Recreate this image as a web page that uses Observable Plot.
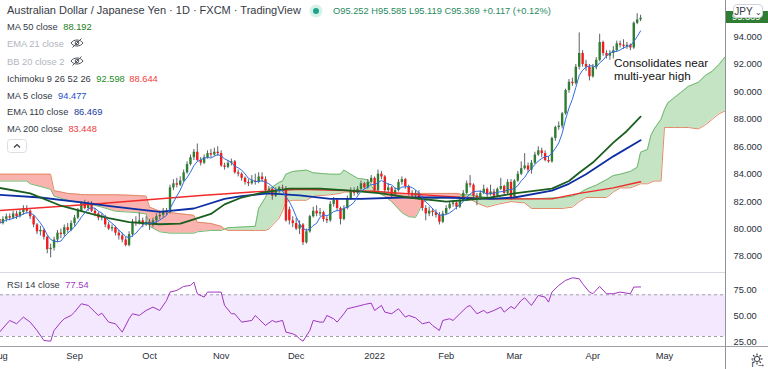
<!DOCTYPE html>
<html><head><meta charset="utf-8">
<script src="https://cdn.jsdelivr.net/npm/d3@7"></script>
<script src="https://cdn.jsdelivr.net/npm/@observablehq/plot@0.6"></script>
<style>
html,body{margin:0;padding:0;background:#fff;}
#wrap{position:relative;width:768px;height:369px;overflow:hidden;font-family:"Liberation Sans",Arial,sans-serif;color:#363a45;background:#fff;}
.abs{position:absolute;white-space:nowrap;}
.lg{font-size:9.3px;line-height:12px;color:#363a45;}
.off{color:#b2b5be;}
svg{overflow:visible;}
</style></head>
<body><div id="wrap"></div>
<script>
// ---------- DATA (bar index 0 = 2 Aug 2021, daily bars) ----------
const opens = [80.7,80.4,80.7,80.9,80.8,81.1,80.9,81.2,81.5,81.3,
80.9,80.3,79.8,79.9,79.4,78.5,78.6,79.2,79.7,79.6,
80.1,79.9,80.4,80.8,81.3,81.9,81.5,81.8,81.3,81.1,
80.8,80.9,80.3,80.0,80.1,79.7,79.5,79.2,78.8,79.6,
80.5,80.4,80.6,80.3,80.5,80.3,80.6,80.9,81.0,81.3,
81.2,83.0,83.3,83.2,83.5,84.1,84.7,85.2,85.6,85.0,
84.8,85.2,85.5,85.4,85.6,85.5,84.6,84.5,84.8,84.9,
84.1,84.0,83.7,83.4,83.3,83.5,83.4,83.8,83.6,82.8,
82.9,82.4,82.8,83.0,82.95,81.4,80.6,80.4,80.0,80.3,
79.0,79.8,80.9,81.3,81.1,81.2,80.7,80.6,81.8,82.1,
81.5,80.7,81.5,82.2,82.8,82.6,82.9,83.3,83.0,83.4,
83.7,82.8,84.0,83.8,82.8,83.0,82.5,82.8,83.4,83.6,
83.1,82.6,82.4,82.6,82.3,81.5,81.1,81.3,81.2,81.0,
80.5,81.1,81.5,81.8,81.9,81.6,82.1,82.6,83.3,83.2,
82.4,82.3,82.6,82.9,82.5,82.7,82.4,82.9,83.1,82.6,
83.4,82.3,83.5,84.0,84.4,84.6,84.3,84.8,85.4,85.7,
85.5,85.0,84.9,86.6,87.4,87.5,88.4,90.1,90.7,90.6,
91.8,92.8,92.0,91.8,91.1,91.8,92.3,93.6,92.8,92.6,
92.8,93.0,93.5,93.4,93.3,93.4,93.2,95.0,95.252];
const highs = [80.9,80.9,81.1,81.1,81.3,81.3,81.4,81.7,81.7,81.4,
81.0,80.4,80.2,80.0,79.5,78.9,79.4,79.9,80.0,80.3,
80.4,80.6,81.0,81.5,82.0,82.1,82.0,82.0,81.5,81.2,
81.1,81.0,80.5,80.3,80.2,79.9,79.7,79.4,79.8,80.7,
80.9,81.2,80.8,80.9,80.7,80.8,81.1,81.3,81.5,81.5,
83.2,83.6,83.7,83.8,84.3,84.9,85.4,85.8,86.2,85.2,
85.4,85.7,85.8,85.9,86.0,85.7,84.8,85.0,85.1,85.0,
84.3,84.1,83.8,83.6,83.9,84.0,84.1,84.1,83.8,83.1,
83.0,83.0,83.1,83.2,83.1,81.6,80.9,80.8,80.6,80.4,
80.0,81.0,81.6,81.7,81.5,81.3,80.9,82.0,82.3,82.2,
81.6,81.7,82.4,83.0,83.0,83.1,83.5,83.4,83.6,83.9,
83.8,84.3,84.2,83.9,83.3,83.1,83.0,83.6,83.8,83.7,
83.2,82.8,82.8,82.8,82.4,81.7,81.6,81.5,81.4,81.2,
81.3,81.7,82.0,82.1,82.0,82.3,82.8,83.5,83.9,83.3,
82.6,82.8,83.2,83.0,83.2,82.9,83.0,83.7,83.2,83.6,
83.6,83.6,84.2,84.9,85.5,84.8,85.0,85.6,86.0,85.9,
85.7,85.3,86.7,87.5,87.8,88.5,90.2,90.9,91.0,92.0,
94.3,93.0,92.3,92.0,92.0,92.5,94.2,93.7,93.0,93.0,
93.3,93.7,93.7,93.8,93.6,93.5,95.1,95.7,95.585];
const lows = [80.2,80.3,80.5,80.6,80.7,80.7,80.8,81.0,81.1,80.7,
80.1,79.6,79.5,79.2,78.2,77.9,78.4,79.0,79.3,79.4,
79.7,79.8,80.2,80.7,81.2,81.4,81.3,81.2,80.9,80.6,
80.6,80.1,79.9,79.8,79.5,79.2,79.0,78.7,78.7,79.4,
80.2,80.3,80.1,80.2,79.9,80.1,80.4,80.7,80.8,81.0,
81.1,82.8,83.0,83.1,83.4,84.0,84.6,85.0,84.9,84.6,
84.7,85.1,85.2,85.3,85.3,84.5,84.3,84.4,84.6,84.0,
83.8,83.5,83.2,83.1,83.2,83.2,83.3,83.4,82.7,82.6,
82.1,82.3,82.6,82.7,80.5,80.3,80.1,79.9,79.6,78.8,
78.9,79.7,80.8,80.9,80.9,80.5,80.4,80.5,81.6,81.3,
80.3,80.6,81.4,82.1,82.4,82.5,82.8,82.9,82.9,83.3,
82.7,82.7,83.6,82.6,82.6,82.3,82.4,82.7,83.2,82.9,
82.4,82.2,82.2,82.1,81.3,80.6,80.9,80.9,80.8,80.3,
80.4,81.0,81.4,81.6,81.4,81.5,82.0,82.5,83.0,82.2,
81.7,82.1,82.5,82.3,82.4,82.2,82.3,82.8,82.4,82.5,
82.1,82.2,83.4,83.9,84.3,84.1,84.0,84.7,85.3,85.2,
84.9,84.8,84.8,86.4,87.2,87.3,88.3,89.9,90.4,90.5,
91.6,91.8,91.5,90.8,91.0,91.6,92.2,92.6,92.4,92.3,
92.4,92.9,93.2,93.1,93.1,93.0,93.1,94.9,95.119];
const closes = [80.4,80.7,80.9,80.8,81.1,80.9,81.2,81.5,81.3,80.9,
80.3,79.8,79.9,79.4,78.5,78.6,79.2,79.7,79.6,80.1,
79.9,80.4,80.8,81.3,81.9,81.5,81.8,81.3,81.1,80.8,
80.9,80.3,80.0,80.1,79.7,79.5,79.2,78.8,79.6,80.5,
80.4,80.6,80.3,80.5,80.3,80.6,80.9,81.0,81.3,81.2,
83.0,83.3,83.2,83.5,84.1,84.7,85.2,85.6,85.0,84.8,
85.2,85.5,85.4,85.6,85.5,84.6,84.5,84.8,84.9,84.1,
84.0,83.7,83.4,83.3,83.5,83.4,83.8,83.6,82.8,82.9,
82.4,82.8,83.0,82.95,80.6,80.6,80.4,80.0,80.3,79.0,
79.8,80.9,81.3,81.1,81.2,80.7,80.6,81.8,82.1,81.5,
80.7,81.5,82.2,82.8,82.6,82.9,83.3,83.0,83.4,83.7,
82.8,84.0,83.8,82.8,83.0,82.5,82.8,83.4,83.6,83.1,
82.6,82.4,82.6,82.3,81.5,81.1,81.3,81.2,81.0,80.5,
81.1,81.5,81.8,81.9,81.6,82.1,82.6,83.3,83.2,82.4,
82.3,82.6,82.9,82.5,82.7,82.4,82.9,83.1,82.6,83.4,
82.3,83.5,84.0,84.4,84.6,84.3,84.8,85.4,85.7,85.5,
85.0,84.9,86.6,87.4,87.5,88.4,90.1,90.7,90.6,91.8,
92.8,92.0,91.8,91.1,91.8,92.3,93.6,92.8,92.6,92.8,
93.0,93.5,93.4,93.3,93.4,93.2,95.0,95.25,95.369];

// Ichimoku leading spans (displayed position, shifted 26 bars ahead)
const cloudIdx = [0,8,9,15,16,20,25,30,34,40,43,44,47,50,57,58,62,65,66,67,75,76,78,79,82,83,84,86,90,92,97,100,101,103,105,108,109,110,113,115,118,120,122,123,124,126,134,136,138,140,143,146,150,154,156,165,168,170,172,175,178,180,182,185,187,188,190,191,192,194,195,196,198,200,202,205,207,209,211,213];
const spanA = [83.5,83.5,83.3,82.9,82.4,82.1,81.9,81.6,81.3,81.2,81.1,80.2,79.8,79.7,79.7,79.8,79.9,79.9,80.0,80.1,80.2,81.5,82.3,82.9,83.4,83.5,84.0,84.2,84.3,84.1,84.0,84.0,84.3,84.0,83.7,83.6,83.2,82.75,82.4,82.0,81.2,80.9,80.85,81.3,81.9,82.2,82.3,82.5,82.5,82.4,82.3,82.2,82.2,82.2,82.2,82.3,82.4,82.6,82.9,83.2,83.6,83.9,84.0,84.2,84.5,85.6,85.8,86.8,87.3,88.0,88.7,89.2,89.6,90.0,90.4,90.7,91.2,91.5,92.0,92.6];
const spanB = [84.0,84.0,84.0,84.0,82.8,82.6,82.5,82.5,82.5,82.45,82.4,81.6,81.3,81.2,81.0,80.5,80.4,80.2,80.0,79.9,79.9,79.9,79.9,80.0,80.8,81.3,82.0,82.1,82.1,82.4,82.5,82.6,82.7,82.7,82.8,82.8,82.8,82.8,82.7,82.6,82.6,82.6,82.6,82.6,82.6,82.6,82.6,82.5,82.2,81.9,81.6,81.8,82.0,81.9,81.5,81.5,81.6,82.0,82.3,82.3,82.3,82.7,83.0,83.0,83.2,83.3,83.3,83.4,83.5,83.5,87.4,87.4,87.4,87.4,87.4,87.3,87.6,88.0,88.4,88.64];

// Moving averages
const ma50Idx = [0,9,18,27,32,38,47,53,57,62,66,71,77,85,94,103,112,120,131,136,144,151,162,167,170,174,180,184,188];
const ma50Val = [83.0,82.6,81.7,81.1,80.8,80.5,80.35,80.4,80.7,81.1,81.8,82.3,82.65,82.95,82.95,82.8,82.6,82.3,82.0,82.1,82.3,82.6,82.95,83.5,84.1,84.85,86.3,87.15,88.19];
const ema110Idx = [0,12,24,33,47,57,66,71,79,88,97,106,118,130,144,151,162,167,172,180,188];
const ema110Val = [82.5,82.3,81.95,81.65,81.25,81.5,82.2,82.4,82.6,82.45,82.2,82.2,82.3,82.3,82.2,82.3,82.8,83.3,84.0,85.3,86.47];
const ma200Idx = [0,29,59,77,88,110,130,144,162,170,180,188];
const ma200Val = [81.35,81.85,82.45,82.75,82.9,82.75,82.4,82.2,82.2,82.6,83.0,83.45];

// RSI 14
const rsiIdx = [0,3,5,7,9,11,13,15,16,18,19,21,22,24,26,28,29,30,32,34,36,38,39,41,43,45,47,49,50,52,54,56,57,58,60,61,65,66,68,69,71,74,75,76,78,80,81,83,84,86,87,88,89,91,92,94,95,96,98,99,101,102,104,106,107,109,110,112,113,115,117,119,120,122,124,126,127,129,130,132,133,135,137,138,140,142,143,145,147,148,150,151,153,154,156,158,160,161,162,164,166,168,170,171,173,174,176,178,180,182,185,186,188];
const rsiVal = [34.2,45.4,42.2,48.6,43.8,35.8,26.2,25.5,35.8,43.8,47.0,50.2,53.4,61.4,59.8,53.4,50.2,52.4,43.8,42.2,34.2,47.0,51.8,50.2,55.0,58.2,55.0,64.6,72.6,74.2,78.0,79.0,82.2,71.0,67.8,72.6,72.6,59.8,51.8,51.8,43.8,45.4,50.2,47.0,40.6,45.4,43.8,45.4,34.2,32.6,31.0,27.8,25.5,35.8,45.4,43.8,43.8,50.2,47.0,43.8,51.8,56.6,58.2,59.8,60.7,62.0,55.0,59.8,53.4,51.8,56.6,48.6,50.2,47.9,42.2,43.8,40.6,35.8,45.4,47.0,45.4,51.8,58.2,59.8,51.8,55.0,52.4,55.0,58.2,53.4,58.8,56.6,64.6,67.1,59.8,69.4,67.8,63.0,72.6,79.0,83.8,86.3,85.4,80.6,72.6,71.0,78.0,71.0,71.0,72.6,71.0,77.4,77.54];

// axis ticks
const priceTicks = [78,80,82,84,86,88,90,92,94];
const rsiTicks = [25,50,75];
const monthIdx = [0,22,44,65,87,110,131,151,174,195];
const monthLabels = ["Aug","Sep","Oct","Nov","Dec","2022","Feb","Mar","Apr","May"];

// ---------- BUILD ----------
const candles = closes.map((c,i)=>({i, o:opens[i], h:highs[i], l:lows[i], c}));
const cloud = cloudIdx.map((i,k)=>({i, a:spanA[k], b:spanB[k]}));
const pts = (idx,val)=>idx.map((i,k)=>({i, v:val[k]}));
const ma50 = pts(ma50Idx, ma50Val), ema110 = pts(ema110Idx, ema110Val), ma200 = pts(ma200Idx, ma200Val);
const rsi = pts(rsiIdx, rsiVal);

const FONT = "'Liberation Sans', Arial, sans-serif";
const xs = {domain:[0,212.9], range:[-1,725], axis:null};
const GREEN = "#2e7d32", RED = "#ef1d1d";

const pricePlot = Plot.plot({
  width:768, height:273, marginLeft:0, marginRight:43, marginTop:0, marginBottom:0,
  style:{fontFamily:FONT, fontSize:"9.3px", color:"#2a2e39", background:"transparent"},
  x: xs,
  y: {domain:[78,94], range:[256,36.5], axis:null},
  marks:[
    Plot.areaY(cloud,{x:"i", y1:"b", y2:d=>Math.max(d.a,d.b), fill:"#c4e4c3", clip:true}),
    Plot.areaY(cloud,{x:"i", y1:"a", y2:d=>Math.max(d.a,d.b), fill:"#fbb3b0", clip:true}),
    Plot.lineY(cloud,{x:"i", y:"a", stroke:"#72b872", strokeWidth:1, clip:true}),
    Plot.lineY(cloud,{x:"i", y:"b", stroke:"#e08a66", strokeWidth:1, clip:true}),
    Plot.ruleX(candles,{x:"i", y1:"l", y2:"h", stroke:"#5d6068", strokeWidth:1}),
    Plot.ruleX(candles.filter(d=>d.c>=d.o),{x:"i", y1:"o", y2:"c", stroke:GREEN, strokeWidth:2.4}),
    Plot.ruleX(candles.filter(d=>d.c<d.o),{x:"i", y1:"o", y2:"c", stroke:RED, strokeWidth:2.4}),
    Plot.lineY(ma200,{x:"i", y:"v", stroke:"#f22a2a", strokeWidth:1.4}),
    Plot.lineY(ema110,{x:"i", y:"v", stroke:"#0d2fa3", strokeWidth:1.8}),
    Plot.lineY(ma50,{x:"i", y:"v", stroke:"#1b5e20", strokeWidth:1.8}),
    Plot.lineY(candles, Plot.windowY({k:5, anchor:"end"}, {x:"i", y:"c", stroke:"#2f6ee0", strokeWidth:1})),
    Plot.axisY({anchor:"right", ticks:priceTicks, tickFormat:d=>d.toFixed(3), tickSize:0, tickPadding:8})
  ]
});

const rsiPlot = Plot.plot({
  width:768, height:96, marginLeft:0, marginRight:43, marginTop:0, marginBottom:22,
  style:{fontFamily:FONT, fontSize:"9.3px", color:"#2a2e39", background:"transparent"},
  x: xs,
  y: {domain:[30,70], range:[63,21.3], axis:null},
  marks:[
    Plot.rect([{lo:30,hi:70}],{y1:"lo", y2:"hi", fill:"#f3e8fd"}),
    Plot.ruleY([30,70],{stroke:"#9ea1aa", strokeDasharray:"3,3", strokeWidth:1}),
    Plot.lineY(rsi,{x:"i", y:"v", stroke:"#a035c0", strokeWidth:1}),
    Plot.axisY({anchor:"right", ticks:rsiTicks, tickFormat:d=>d.toFixed(2), tickSize:0, tickPadding:8}),
    Plot.axisX({ticks:monthIdx, tickFormat:d=>monthLabels[monthIdx.indexOf(d)], tickSize:0, tickPadding:5})
  ]
});

const wrap = document.getElementById("wrap");
pricePlot.style.position="absolute"; pricePlot.style.left="0"; pricePlot.style.top="0";
rsiPlot.style.position="absolute"; rsiPlot.style.left="0"; rsiPlot.style.top="273px";
wrap.appendChild(pricePlot); wrap.appendChild(rsiPlot);

function add(html, st, cls){ const d=document.createElement("div"); d.className="abs "+(cls||""); d.innerHTML=html; Object.assign(d.style, st); wrap.appendChild(d); return d; }

// separators
add("",{left:"0",top:"272px",width:"725px",height:"1px",background:"#d6d9e0"});
add("",{left:"0",top:"346px",width:"768px",height:"1px",background:"#9ea1aa"});
add("",{left:"725px",top:"0",width:"1px",height:"369px",background:"#8f929b"});

// title
add("Australian Dollar / Japanese Yen · 1D · FXCM · TradingView",{left:"7px",top:"4px",fontSize:"11px",lineHeight:"13px",color:"#363a45"});
add('<svg width="14" height="14"><circle cx="7" cy="7" r="6.5" fill="#d5f1ea"/><circle cx="7" cy="7" r="3" fill="#1ea48a"/></svg>',{left:"309px",top:"4px"});
add("O95.252 H95.585 L95.119 C95.369 +0.117 (+0.12%)",{left:"333px",top:"5px",fontSize:"9.3px",lineHeight:"12px",color:"#1f8a5e"});

const eye = '<svg width="14" height="10" style="vertical-align:-1px;margin-left:6px"><path d="M1 5 C3.5 1 10.5 1 13 5 C10.5 9 3.5 9 1 5Z" fill="none" stroke="#50535e" stroke-width="1"/><circle cx="7" cy="5" r="1.8" fill="none" stroke="#50535e"/><line x1="2.5" y1="9.5" x2="11.5" y2="0.5" stroke="#50535e"/></svg>';
const lg = [
  [21.3,'MA 50 close <span style="color:#1e7b22;margin-left:3px">88.192</span>'],
  [38.3,'<span class="off">EMA 21 close</span>'+eye],
  [55.7,'<span class="off">BB 20 close 2</span>'+eye],
  [72.7,'Ichimoku 9 26 52 26 <span style="color:#1e8a24;margin-left:3px">92.598</span> <span style="color:#f23b3b;margin-left:2px">88.644</span>'],
  [89.7,'MA 5 close <span style="color:#2450c8;margin-left:3px">94.477</span>'],
  [106.3,'EMA 110 close <span style="color:#143a9c;margin-left:3px">86.469</span>'],
  [123.3,'MA 200 close <span style="color:#f23b3b;margin-left:3px">83.448</span>']
];
lg.forEach(([t,h])=>add(h,{left:"7px",top:t+"px"},"lg"));
add('<svg width="20" height="14"><rect x="0.5" y="0.5" width="19" height="13" rx="3" fill="#fff" stroke="#dcdee4"/><path d="M7 8.5 L10 5.5 L13 8.5" fill="none" stroke="#363a45" stroke-width="1.2"/></svg>',{left:"7px",top:"139px"});

// annotation
add("Consolidates near<br>multi-year high",{left:"614px",top:"57px",fontSize:"11.7px",lineHeight:"12.5px",color:"#111",fontWeight:"500"});

// price badge + currency button
add("95.369",{left:"726px",top:"11px",width:"42px",height:"12px",background:"#2e7d32",color:"#fff",fontSize:"9.3px",lineHeight:"12px",paddingLeft:"6px"});
add('JPY<span style="font-size:8px;margin-left:2px">&#8964;</span>',{left:"733px",top:"4px",width:"30px",height:"14px",background:"#fff",border:"1px solid #d1d4dc",borderRadius:"4px",fontSize:"10px",lineHeight:"14px",textAlign:"center",color:"#363a45",boxSizing:"border-box"});

// RSI legend
add('RSI 14 close <span style="color:#a035c0;margin-left:3px">77.54</span>',{left:"7px",top:"279px"},"lg");

// gear
add('<svg width="12" height="12" viewBox="0 0 12 12"><circle cx="6" cy="6" r="2.6" fill="none" stroke="#363a45"/><g stroke="#363a45" stroke-width="1.2"><line x1="6" y1="0.5" x2="6" y2="2.5"/><line x1="6" y1="9.5" x2="6" y2="11.5"/><line x1="0.5" y1="6" x2="2.5" y2="6"/><line x1="9.5" y1="6" x2="11.5" y2="6"/><line x1="2.1" y1="2.1" x2="3.5" y2="3.5"/><line x1="8.5" y1="8.5" x2="9.9" y2="9.9"/><line x1="2.1" y1="9.9" x2="3.5" y2="8.5"/><line x1="8.5" y1="3.5" x2="9.9" y2="2.1"/></g></svg>',{left:"751px",top:"351px"});
</script></body></html>
